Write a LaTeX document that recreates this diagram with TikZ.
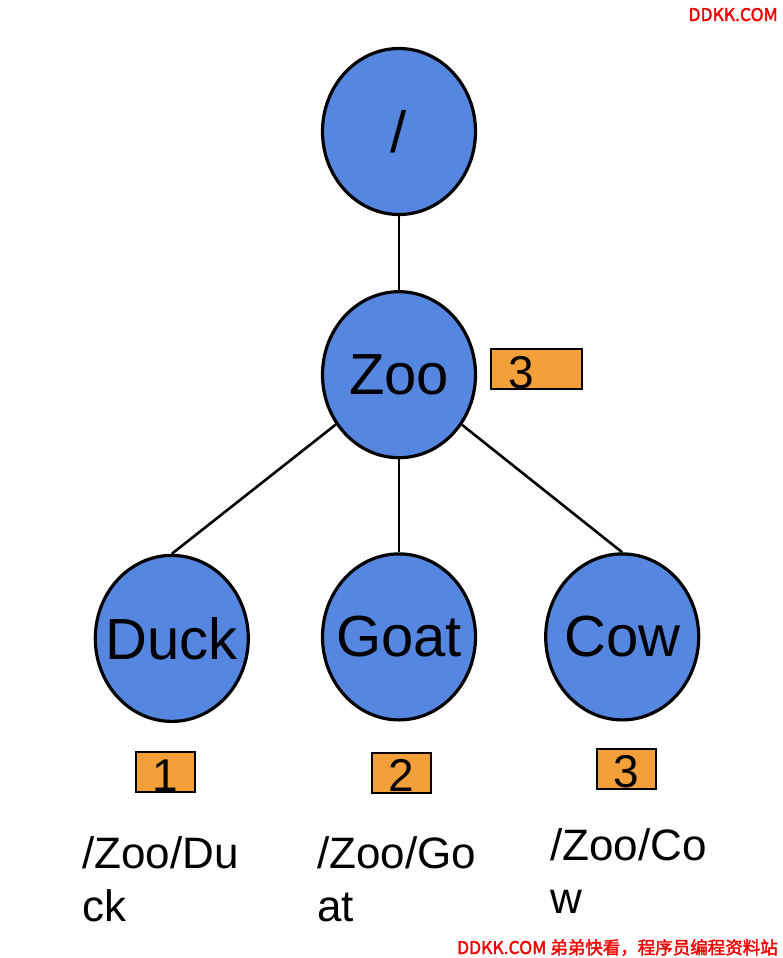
\documentclass[tikz,border=0pt]{standalone}
\usepackage{fontspec}
\setmainfont{Liberation Sans}
\newfontfamily\cjk{Noto Sans CJK SC}[FakeBold=2]
\usepackage{tikz}
\usetikzlibrary{shapes.geometric, positioning}
\definecolor{nodeblue}{RGB}{86,135,224}
\definecolor{cntorange}{RGB}{243,160,58}
\definecolor{wmred}{RGB}{240,0,0}

\begin{document}
\begin{tikzpicture}[
    x=1pt, y=-1pt,
    node distance=70pt,
    znode/.style={
        ellipse, draw, line width=3.2pt, fill=nodeblue,
        minimum width=153pt, minimum height=166pt,
        inner xsep=-15pt, inner ysep=0pt,
        font=\fontsize{58}{58}\selectfont
    },
    cnt/.style={
        rectangle, draw, line width=2.2pt, fill=cntorange,
        minimum width=59pt, minimum height=40pt, inner sep=0pt,
        text height=38pt, text depth=0pt,
        font=\fontsize{46}{46}\selectfont
    },
    zpath/.style={
        anchor=north west, inner sep=0pt, align=left,
        font=\fontsize{44}{53}\selectfont
    },
    wmark/.style={
        anchor=base east, inner sep=0pt, text=wmred,
        font=\cjk\fontsize{17.5}{17.5}\selectfont
    },
    link/.style={line width=2.6pt}
]
\useasboundingbox (0,0) rectangle (782,958);

%% Tree
\node (root) [znode] at (399,131.5) {/};
\node (zoo)  [znode, below=74pt of root] {Zoo};
\node (goat) [znode, below=93pt of zoo] {Goat};
\node (duck) [znode, left=71pt of goat, yshift=-1.5pt] {Duck};
\node (cow)  [znode, right=67pt of goat] {Cow};

%% Counters
\node (zoocnt)  [cnt, right=13pt of zoo, yshift=5.5pt, minimum width=91pt,
                 text width=57pt, inner xsep=17pt, align=left] {3};
\node (duckcnt) [cnt, below=28pt of duck, xshift=-6.5pt] {1};
\node (goatcnt) [cnt, below=30pt of goat, xshift=2.5pt] {2};
\node (cowcnt)  [cnt, below=26pt of cow, xshift=4.5pt] {3};

%% Paths
\node (duckpath) [zpath] at (82,836) {/Zoo/Du\\ck};
\node (goatpath) [zpath] at (317,836) {/Zoo/Go\\at};
\node (cowpath)  [zpath] at (550,828) {/Zoo/Co\\w};

%% Links
\draw [link] (root) -- (zoo);
\draw [link] (zoo) -- (duck.north);
\draw [link] (zoo) -- (goat);
\draw [link] (zoo) -- (cow.north);

%% Watermarks
\node (wmtop) [wmark] at (778,21) {DDKK.COM};
\node (wmbot) [wmark] at (778,954) {DDKK.COM 弟弟快看，程序员编程资料站};

\end{tikzpicture}
\end{document}
